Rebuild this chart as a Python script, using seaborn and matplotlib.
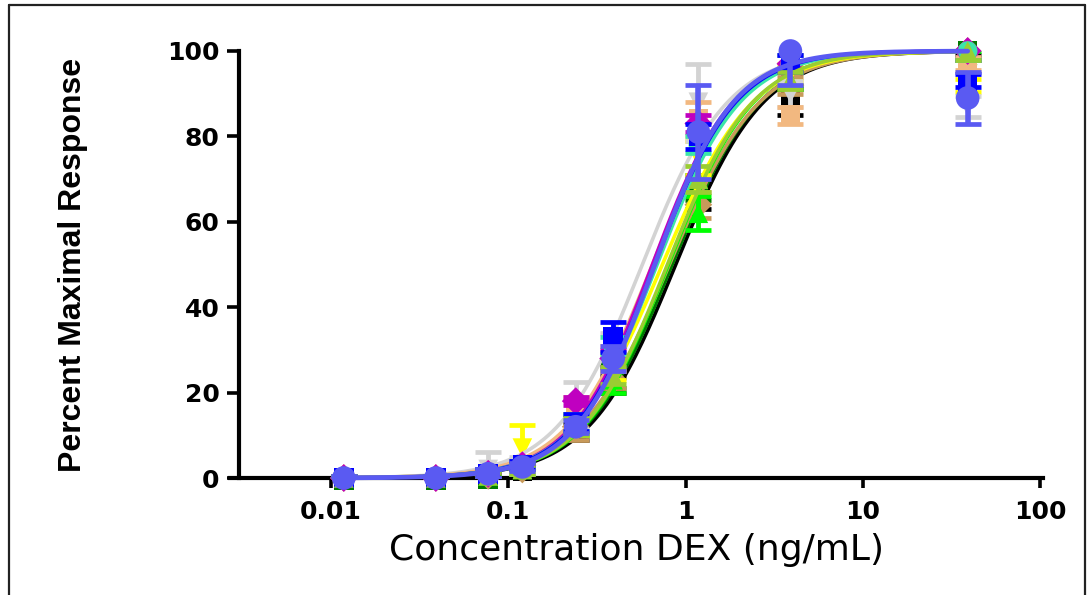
import numpy as np
import pandas as pd
import matplotlib
matplotlib.use("Agg")
import matplotlib.pyplot as plt
import seaborn as sns
from matplotlib.lines import Line2D

# ---------------- data ----------------
conc = [0.0118, 0.039, 0.077, 0.12, 0.24, 0.39, 1.18, 3.9, 39]

series_names = ["S1", "S2", "S3", "S4", "S5", "S6", "S7", "S8", "S9", "S10", "S11", "S12"]
series_colors = ["#000000", "#007A00", "#C89A5A", "#00FF00", "#FFFF00", "#D3D3D3",
                 "#F2B880", "#C000C0", "#3CE6A8", "#0000FF", "#9ACD32", "#5A5AF2"]
series_markers = ["s", "s", "D", "^", "v", "v", "s", "D", "o", "s", "^", "o"]

means_s1 = [0, 0, 0.5, 1.5, 11, 22, 66, 88, 100]
means_s2 = [-0.5, -0.5, -0.3, 2, 12, 24, 68, 94, 100]
means_s3 = [0, 0, 0.5, 2, 12, 23, 64, 92, 100]
means_s4 = [0, 0, 0.5, 2, 12, 23, 62, 93, 99]
means_s5 = [0, 0, 1, 7, 12, 26, 75, 95, 92]
means_s6 = [0, 0, 2, 3, 17, 31, 88, 90, 87]
means_s7 = [0, 0, 1, 3, 17, 28, 84, 85, 97]
means_s8 = [0, 0, 1, 3, 18, 28, 83, 97, 100]
means_s9 = [0, 0, 1, 3, 13, 31, 78, 97, 100]
means_s10 = [0, 0, 1, 3, 13, 33, 80, 97, 93]
means_s11 = [0, 0, 0.5, 2, 12, 24, 70, 93, 100]
means_s12 = [0, 0, 1, 2.6, 12, 28, 81, 100, 89]

sd_s1 = [0.5, 0.5, 1, 1, 2, 2, 3, 3, 1]
sd_s2 = [0.5, 0.5, 1, 1, 2, 3, 3, 2, 2]
sd_s3 = [0.5, 0.5, 1, 1, 3, 2, 3, 2, 2]
sd_s4 = [0.5, 0.5, 0.5, 1, 2, 3, 4, 2, 1]
sd_s5 = [0.5, 0.5, 1, 5.5, 2, 3, 4, 2, 1.5]
sd_s6 = [0.5, 0.5, 4, 2, 5.5, 3, 9, 3, 2.5]
sd_s7 = [0.5, 0.5, 1, 1, 2, 3, 4, 2, 1.5]
sd_s8 = [0.5, 0.5, 1, 1, 1, 2, 2, 2, 2]
sd_s9 = [0.5, 0.5, 1, 1, 2, 2, 2, 2, 2]
sd_s10 = [0.5, 0.5, 1, 1, 2, 3.5, 3, 2, 1.5]
sd_s11 = [0.5, 0.5, 1, 1, 2, 2, 3, 2, 2]
sd_s12 = [0.5, 0.5, 1, 1, 1.5, 3, 11, 8, 6]

# fitted four-parameter logistic curves (bottom 0, top 100)
ec50_values = [0.88, 0.84, 0.81, 0.80, 0.74, 0.57, 0.65, 0.65, 0.69, 0.67, 0.79, 0.67]
hill_values = [1.75, 1.75, 1.70, 1.80, 1.70, 1.80, 1.80, 1.90, 1.85, 1.90, 1.80, 1.95]

all_means = [means_s1, means_s2, means_s3, means_s4, means_s5, means_s6,
             means_s7, means_s8, means_s9, means_s10, means_s11, means_s12]
all_sds = [sd_s1, sd_s2, sd_s3, sd_s4, sd_s5, sd_s6,
           sd_s7, sd_s8, sd_s9, sd_s10, sd_s11, sd_s12]

y_ticks = [0, 20, 40, 60, 80, 100]
x_ticks = [0.01, 0.1, 1, 10, 100]
x_tick_labels = ["0.01", "0.1", "1", "10", "100"]

# ---------------- figure ----------------
sns.set_theme(style="white")
plt.rcParams["font.family"] = ["DejaVu Sans"]

W, H = 1088, 595
fig = plt.figure(figsize=(W / 100, H / 100), dpi=100)
fig.patch.set_facecolor("white")

# outer frame
frame_kw = dict(color="#222222", linewidth=1.6, transform=fig.transFigure)
fig.add_artist(Line2D([9 / W, 1085 / W], [1 - 4.5 / H, 1 - 4.5 / H], **frame_kw))
fig.add_artist(Line2D([9 / W, 9 / W], [0, 1 - 4.5 / H], **frame_kw))
fig.add_artist(Line2D([1085 / W, 1085 / W], [0, 1 - 4.5 / H], **frame_kw))

ax = fig.add_axes([230 / W, 1 - 478 / H, (1043 - 230) / W, (478 - 51) / H])
ax.set_facecolor("white")
ax.set_xscale("log")

xfit = np.logspace(np.log10(conc[0]), np.log10(conc[-1]), 300)

for i, name in enumerate(series_names):
    col = series_colors[i]
    big = (i == len(series_names) - 1)
    ax.errorbar(conc, all_means[i], yerr=all_sds[i], fmt="none",
                ecolor=col, elinewidth=4.0 if big else 3.5,
                capsize=9.5, capthick=3.4, zorder=2 + i * 0.1)
    sns.scatterplot(x=conc, y=all_means[i], color=col, marker=series_markers[i],
                    s=290 if big else 200, edgecolor="none", ax=ax,
                    zorder=2.02 + i * 0.1, clip_on=False, legend=False)
    yfit = 100.0 / (1.0 + (ec50_values[i] / xfit) ** hill_values[i])
    sns.lineplot(x=xfit, y=yfit, color=col, linewidth=3.4 if big else 2.6,
                 ax=ax, zorder=2.05 + i * 0.1, legend=False)
    ax.lines[-1].set_clip_on(False)

ax.set_xlim(10 ** -2.570, 10 ** 2.016)
ax.set_ylim(0, 100)

for s in ["top", "right"]:
    ax.spines[s].set_visible(False)
for s in ["left", "bottom"]:
    ax.spines[s].set_linewidth(3.0)
    ax.spines[s].set_color("black")
    ax.spines[s].set_zorder(1)
ax.spines["left"].set_position(("data", 10 ** -2.519))

ax.set_yticks(y_ticks)
ax.set_yticklabels([str(v) for v in y_ticks])
ax.set_xticks(x_ticks)
ax.set_xticklabels(x_tick_labels)
ax.xaxis.set_minor_locator(matplotlib.ticker.NullLocator())
ax.tick_params(axis="y", which="major", direction="out", length=9, width=2.6,
               color="black", pad=5, labelsize=18, left=True)
ax.tick_params(axis="x", which="major", direction="out", length=7, width=2.6,
               color="black", pad=9, labelsize=18, bottom=True)
for lab in ax.get_xticklabels() + ax.get_yticklabels():
    lab.set_fontweight("bold")
    lab.set_color("black")

ax.set_xlabel("Concentration DEX (ng/mL)", fontsize=26, color="black", labelpad=6)
ax.set_ylabel("Percent Maximal Response", fontsize=23, fontweight="bold",
              family=["Liberation Sans", "DejaVu Sans"], color="black")
ax.yaxis.set_label_coords((88 - 230) / (1043 - 230), 0.5)
ax.grid(False)

fig.savefig("out.png", dpi=100, facecolor="white")
